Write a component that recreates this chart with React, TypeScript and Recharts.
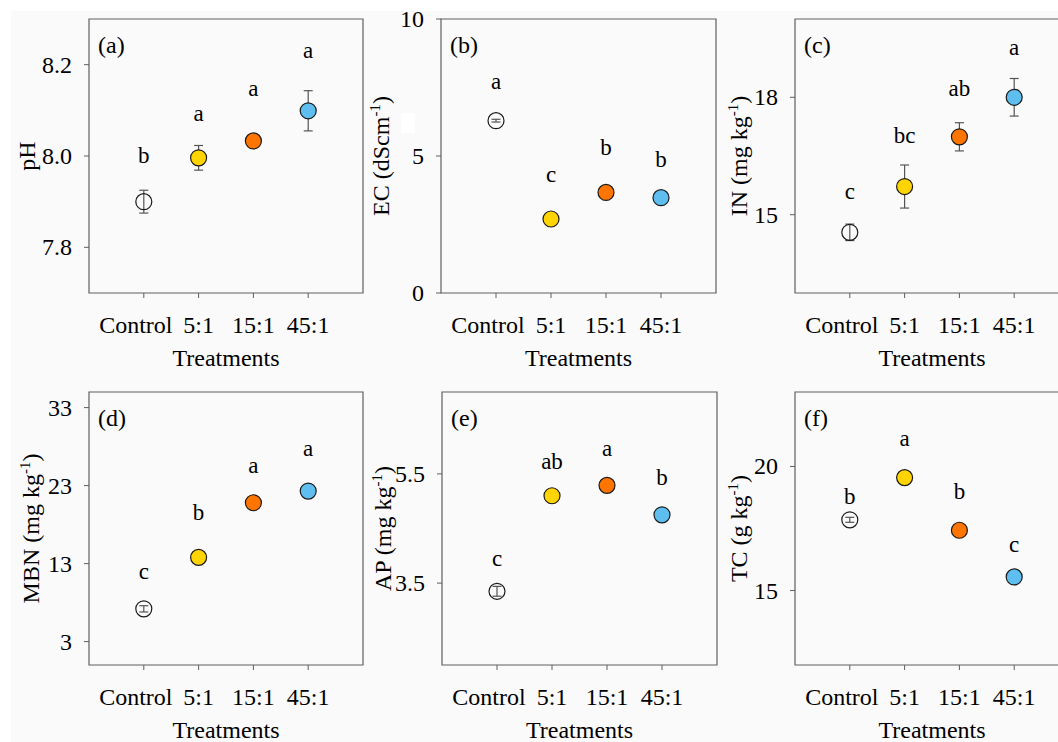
import React from 'react';
import { ScatterChart, Scatter, XAxis, YAxis, ErrorBar, ReferenceArea } from 'recharts';

// ---------- data ----------
const treatments = ['Control', '5:1', '15:1', '45:1'];
const pointColors = ['none', '#FFD400', '#FF7500', '#5EBEF0'];

// (a) pH
const phMean = [7.9, 7.996, 8.033, 8.099];
const phErr = [0.025, 0.027, 0.004, 0.044];
const phLetters = ['b', 'a', 'a', 'a'];
const phLetterY = [7.984, 8.076, 8.132, 8.214];
const phTicks = [7.8, 8.0, 8.2];
const phTickLabels = ['7.8', '8.0', '8.2'];
const phDomain = [7.7, 8.3];

// (b) EC
const ecMean = [6.29, 2.7, 3.67, 3.48];
const ecErr = [0.05, 0, 0, 0];
const ecLetters = ['a', 'c', 'b', 'b'];
const ecLetterY = [7.45, 4.04, 5.05, 4.6];
const ecTicks = [0, 5, 10];
const ecTickLabels = ['0', '5', '10'];
const ecDomain = [0, 10];

// (c) IN
const inMean = [14.55, 15.72, 16.99, 18.0];
const inErr = [0.21, 0.55, 0.36, 0.48];
const inLetters = ['c', 'bc', 'ab', 'a'];
const inLetterY = [15.39, 16.83, 18.04, 19.07];
const inTicks = [15, 18];
const inTickLabels = ['15', '18'];
const inDomain = [13, 20];

// (d) MBN
const mbnMean = [7.2, 13.8, 20.8, 22.3];
const mbnErr = [0.4, 0, 0, 0];
const mbnLetters = ['c', 'b', 'a', 'a'];
const mbnLetterY = [10.97, 18.54, 24.63, 26.75];
const mbnTicks = [3, 13, 23, 33];
const mbnTickLabels = ['3', '13', '23', '33'];
const mbnDomain = [0, 35];

// (e) AP
const apMean = [3.35, 5.1, 5.29, 4.75];
const apErr = [0.09, 0, 0, 0];
const apLetters = ['c', 'ab', 'a', 'b'];
const apLetterY = [3.81, 5.585, 5.83, 5.3];
const apTicks = [3.5, 5.5];
const apTickLabels = ['3.5', '5.5'];
const apDomain = [2, 7];

// (f) TC
const tcMean = [17.85, 19.55, 17.43, 15.55];
const tcErr = [0.1, 0, 0, 0];
const tcLetters = ['b', 'a', 'b', 'c'];
const tcLetterY = [18.5, 20.83, 18.67, 16.57];
const tcTicks = [15, 20];
const tcTickLabels = ['15', '20'];
const tcDomain = [12, 23];

// ---------- styling ----------
const FONT = "'Liberation Serif', 'Times New Roman', serif";
const TXT = { fontFamily: FONT };
const AXIS_GREY = '#5f5f5f';
const ML = 100;
const MT = 20;
const MR = 10;
const XH = 80;

type LabelParts = { pre: string; sup?: string; post?: string };

type PanelProps = {
  tag: string;
  yLabel: LabelParts;
  mean: number[];
  err: number[];
  letters: string[];
  letterY: number[];
  ticks: number[];
  tickLabels: string[];
  domain: number[];
  left: number;
  top: number;
  w: number;
  h: number;
  labelOffset: number;
};

const XTick = (props: any) => {
  const { x, y, payload, index } = props;
  const label = treatments[payload.value - 1];
  return (
    <text
      x={x + (index === 0 ? -8 : 0)}
      y={y + 17}
      textAnchor="middle"
      style={TXT}
      fontFamily={FONT}
      fontSize={24}
      fill="#000"
    >
      {label}
    </text>
  );
};

function Panel(p: PanelProps) {
  const points = p.mean.map((v, i) => ({ x: i + 1, y: v, err: p.err[i], color: pointColors[i] }));
  const letterData = p.letters.map((l, i) => ({ x: i + 1, y: p.letterY[i], letter: l }));
  const width = ML + p.w + MR;
  const height = MT + p.h + XH;

  const YTick = (t: any) => {
    const { x, y, payload } = t;
    const idx = p.ticks.indexOf(payload.value);
    return (
      <text
        x={x}
        y={y + 8}
        textAnchor="end"
        style={TXT}
        fontFamily={FONT}
        fontSize={24}
        fill="#000"
      >
        {idx >= 0 ? p.tickLabels[idx] : String(payload.value)}
      </text>
    );
  };

  const pointShape = (s: any) => (
    <circle
      cx={s.cx}
      cy={s.cy}
      r={8}
      fill={s.payload.color}
      stroke="#1a1a1a"
      strokeWidth={1.2}
    />
  );
  const letterShape = (s: any) => (
    <text
      x={s.cx}
      y={s.cy}
      textAnchor="middle"
      style={TXT}
      fontFamily={FONT}
      fontSize={23}
      fill="#000"
    >
      {s.payload.letter}
    </text>
  );

  const yLabelContent = (lp: any) => {
    const vb = lp.viewBox;
    const cx = vb.x + vb.width - p.labelOffset;
    const cy = vb.y + vb.height / 2;
    return (
      <text
        x={cx}
        y={cy}
        transform={`rotate(-90, ${cx}, ${cy})`}
        textAnchor="middle"
        style={TXT}
        fontFamily={FONT}
        fontSize={24}
        fill="#000"
      >
        <tspan>{p.yLabel.pre}</tspan>
        {p.yLabel.sup ? (
          <tspan dy={-9} fontSize={15}>
            {p.yLabel.sup}
          </tspan>
        ) : null}
        {p.yLabel.post ? <tspan dy={9}>{p.yLabel.post}</tspan> : null}
      </text>
    );
  };

  const xLabelContent = (lp: any) => {
    const vb = lp.viewBox;
    return (
      <text
        x={vb.x + vb.width / 2}
        y={vb.y + 73}
        textAnchor="middle"
        style={TXT}
        fontFamily={FONT}
        fontSize={24}
        fill="#000"
      >
        Treatments
      </text>
    );
  };

  const tagContent = (lp: any) => {
    const vb = lp.viewBox;
    return (
      <text x={vb.x + 9} y={vb.y + 34} style={TXT} fontFamily={FONT} fontSize={24} fill="#000">
        {p.tag}
      </text>
    );
  };

  return (
    <div style={{ position: 'absolute', left: p.left - ML, top: p.top - MT }}>
      <ScatterChart width={width} height={height} margin={{ top: MT, right: MR, left: 0, bottom: 0 }}>
        <XAxis
          type="number"
          dataKey="x"
          domain={[0, 5]}
          ticks={[1, 2, 3, 4]}
          allowDataOverflow
          axisLine={false}
          tickLine={{ stroke: AXIS_GREY, strokeWidth: 1 }}
          tickSize={5}
          tickMargin={18}
          tick={<XTick />}
          height={XH}
          interval={0}
          label={{ content: xLabelContent }}
        />
        <YAxis
          type="number"
          dataKey="y"
          domain={p.domain}
          ticks={p.ticks}
          allowDataOverflow
          width={ML}
          axisLine={false}
          tickLine={{ stroke: AXIS_GREY, strokeWidth: 1 }}
          tickSize={5}
          tickMargin={12}
          interval={0}
          tick={<YTick />}
          label={{ content: yLabelContent }}
        />
        <ReferenceArea
          x1={0}
          x2={5}
          y1={p.domain[0]}
          y2={p.domain[1]}
          fill="none"
          stroke={AXIS_GREY}
          strokeWidth={1.2}
          ifOverflow="visible"
          label={{ content: tagContent }}
        />
        <Scatter data={points} shape={pointShape} isAnimationActive={false}>
          <ErrorBar dataKey="err" direction="y" width={4.5} stroke="#555" strokeWidth={1.2} isAnimationActive={false} />
        </Scatter>
        <Scatter data={letterData} shape={letterShape} isAnimationActive={false} />
      </ScatterChart>
    </div>
  );
}

export default function App() {
  return (
    <div
      style={{
        position: 'absolute',
        left: 0,
        top: 0,
        width: 1058,
        height: 742,
        overflow: 'hidden',
        background: '#ffffff',
        fontFamily: FONT,
      }}
    >
      <div
        style={{
          position: 'absolute',
          left: 11,
          top: 11,
          right: 0,
          bottom: 0,
          background: '#fafafa',
        }}
      />
      <Panel tag="(a)" yLabel={{ pre: 'pH' }} mean={phMean} err={phErr} letters={phLetters} letterY={phLetterY}
        ticks={phTicks} tickLabels={phTickLabels} domain={phDomain} left={89} top={19} w={274} h={274} labelOffset={54} />
      <Panel tag="(b)" yLabel={{ pre: 'EC (dScm', sup: '-1', post: ')' }} mean={ecMean} err={ecErr} letters={ecLetters} letterY={ecLetterY}
        ticks={ecTicks} tickLabels={ecTickLabels} domain={ecDomain} left={441} top={19} w={275} h={274} labelOffset={52} />
      <Panel tag="(c)" yLabel={{ pre: 'IN (mg kg', sup: '-1', post: ')' }} mean={inMean} err={inErr} letters={inLetters} letterY={inLetterY}
        ticks={inTicks} tickLabels={inTickLabels} domain={inDomain} left={795} top={19} w={274} h={274} labelOffset={48} />
      <Panel tag="(d)" yLabel={{ pre: 'MBN (mg kg', sup: '-1', post: ')' }} mean={mbnMean} err={mbnErr} letters={mbnLetters} letterY={mbnLetterY}
        ticks={mbnTicks} tickLabels={mbnTickLabels} domain={mbnDomain} left={89} top={392} w={274} h={273} labelOffset={50} />
      <Panel tag="(e)" yLabel={{ pre: 'AP (mg kg', sup: '-1', post: ')' }} mean={apMean} err={apErr} letters={apLetters} letterY={apLetterY}
        ticks={apTicks} tickLabels={apTickLabels} domain={apDomain} left={442} top={392} w={275} h={273} labelOffset={51} />
      <Panel tag="(f)" yLabel={{ pre: 'TC (g kg', sup: '-1', post: ')' }} mean={tcMean} err={tcErr} letters={tcLetters} letterY={tcLetterY}
        ticks={tcTicks} tickLabels={tcTickLabels} domain={tcDomain} left={795} top={392} w={274} h={273} labelOffset={48} />
      <div
        style={{
          position: 'absolute',
          left: 401,
          top: 113,
          width: 14,
          height: 20,
          background: '#ffffff',
          borderRadius: 2,
        }}
      />
    </div>
  );
}
